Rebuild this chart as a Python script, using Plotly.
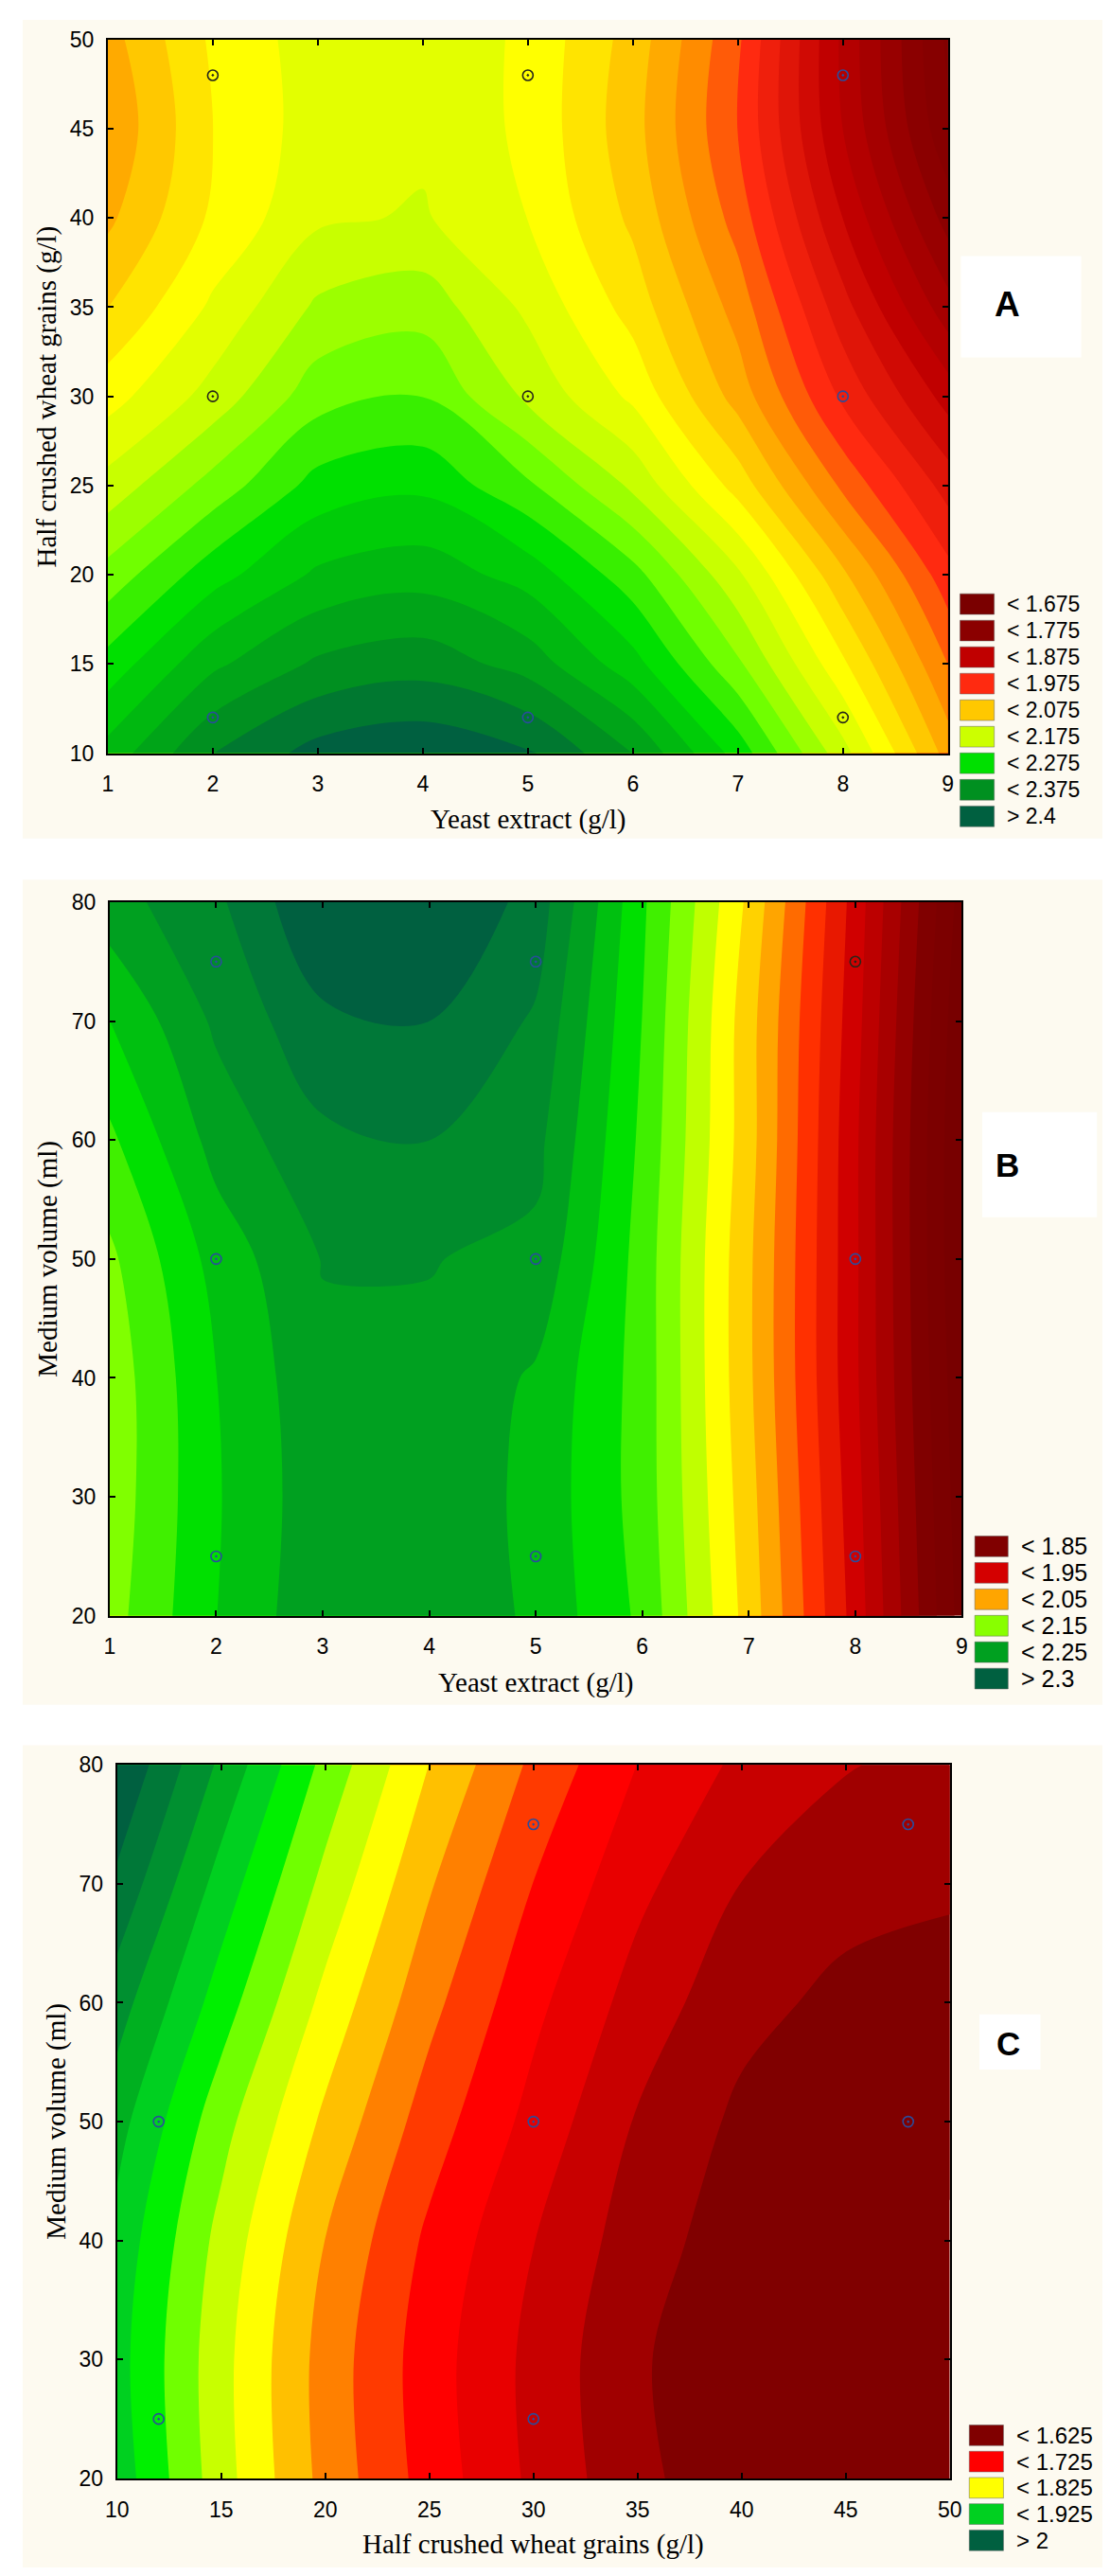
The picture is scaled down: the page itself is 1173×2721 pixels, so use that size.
import numpy as np
import plotly.graph_objects as go

W, H = 1173, 2721

# ---- panel A : yeast extract (x) vs half crushed wheat grains (y)
a_x = [1, 2, 3, 4, 5, 6, 7, 8, 9]
a_y = [10, 15, 20, 25, 30, 35, 40, 45, 50]
a_z = [
    [2.310, 2.375, 2.410, 2.420, 2.405, 2.350, 2.265, 2.160, 2.040],
    [2.260, 2.320, 2.355, 2.365, 2.340, 2.285, 2.205, 2.105, 2.000],
    [2.210, 2.265, 2.305, 2.315, 2.290, 2.235, 2.155, 2.055, 1.960],
    [2.160, 2.210, 2.260, 2.270, 2.230, 2.170, 2.090, 1.995, 1.915],
    [2.115, 2.160, 2.215, 2.225, 2.170, 2.120, 2.040, 1.945, 1.865],
    [2.075, 2.130, 2.180, 2.190, 2.145, 2.090, 2.015, 1.910, 1.810],
    [2.045, 2.105, 2.146, 2.153, 2.125, 2.070, 1.990, 1.875, 1.765],
    [2.030, 2.100, 2.138, 2.145, 2.120, 2.060, 1.975, 1.850, 1.730],
    [2.040, 2.105, 2.138, 2.145, 2.120, 2.065, 1.980, 1.845, 1.720],
]
a_pts_x = [2, 5, 8, 2, 5, 8, 2, 5, 8]
a_pts_y = [48, 48, 48, 30, 30, 30, 12, 12, 12]
a_pts_c = ["k", "k", "b", "k", "k", "b", "b", "b", "k"]
a_leg = ["< 1.675", "< 1.775", "< 1.875", "< 1.975", "< 2.075",
         "< 2.175", "< 2.275", "< 2.375", "> 2.4"]
a_leg_col = ["#7a0000", "#8b0000", "#c00000", "#ff2a10", "#ffc800",
             "#ccff00", "#00e000", "#009020", "#006040"]

# ---- panel B : yeast extract (x) vs medium volume (y)
b_x = [1, 2, 3, 4, 5, 6, 7, 8, 9]
b_y = [20, 30, 40, 50, 60, 70, 80]
b_z = [
    [2.140, 2.200, 2.245, 2.248, 2.220, 2.170, 2.065, 1.940, 1.790],
    [2.135, 2.198, 2.242, 2.245, 2.218, 2.165, 2.060, 1.935, 1.785],
    [2.135, 2.200, 2.245, 2.245, 2.222, 2.165, 2.055, 1.930, 1.780],
    [2.145, 2.210, 2.2515, 2.2515, 2.244, 2.165, 2.055, 1.930, 1.775],
    [2.170, 2.235, 2.270, 2.276, 2.258, 2.170, 2.060, 1.930, 1.775],
    [2.200, 2.255, 2.295, 2.301, 2.272, 2.175, 2.060, 1.935, 1.780],
    [2.240, 2.270, 2.325, 2.330, 2.290, 2.180, 2.070, 1.940, 1.790],
]
b_pts_x = [2, 5, 8, 2, 5, 8, 2, 5, 8]
b_pts_y = [75, 75, 75, 50, 50, 50, 25, 25, 25]
b_pts_c = ["b", "b", "k", "b", "b", "b", "b", "b", "b"]
b_leg = ["< 1.85", "< 1.95", "< 2.05", "< 2.15", "< 2.25", "> 2.3"]
b_leg_col = ["#800000", "#d40000", "#ffa500", "#88ff00", "#00a020", "#006040"]

# ---- panel C : half crushed wheat grains (x) vs medium volume (y)
c_x = [10, 15, 20, 25, 30, 35, 40, 45, 50]
c_y = [20, 30, 40, 50, 60, 70, 80]
c_z = [
    [1.915, 1.836, 1.767, 1.715, 1.670, 1.632, 1.607, 1.597, 1.600],
    [1.910, 1.834, 1.765, 1.712, 1.668, 1.629, 1.604, 1.593, 1.595],
    [1.917, 1.842, 1.775, 1.720, 1.676, 1.637, 1.612, 1.599, 1.598],
    [1.935, 1.860, 1.795, 1.738, 1.692, 1.648, 1.620, 1.606, 1.605],
    [1.962, 1.888, 1.818, 1.758, 1.707, 1.665, 1.633, 1.619, 1.615],
    [1.995, 1.915, 1.843, 1.778, 1.725, 1.682, 1.650, 1.634, 1.629],
    [2.025, 1.945, 1.868, 1.800, 1.745, 1.700, 1.670, 1.652, 1.642],
]
c_pts_x = [30, 48, 12, 30, 48, 12, 30]
c_pts_y = [75, 75, 50, 50, 50, 25, 25]
c_pts_c = ["b", "b", "b", "b", "b", "b", "b"]
c_leg = ["< 1.625", "< 1.725", "< 1.825", "< 1.925", "> 2"]
c_leg_col = ["#800000", "#ff0000", "#ffff00", "#00d020", "#006040"]

# colour ramps (value -> colour) used for the filled bands
a_ramp = [(1.6375, "#6a0000"), (1.6625, "#780000"), (1.7625, "#8b0000"),
          (1.8625, "#c00000"), (1.9625, "#ff2a10"), (2.0125, "#ff8c00"),
          (2.0625, "#ffc800"), (2.1125, "#ffff00"), (2.1625, "#c8ff00"),
          (2.2125, "#70ff00"), (2.2625, "#00e000"), (2.3625, "#009020"),
          (2.4125, "#006040")]
b_ramp = [(1.7875, "#780000"), (1.8375, "#800000"), (1.9375, "#d00000"),
          (1.9875, "#ff3000"), (2.0375, "#ffa500"), (2.0875, "#ffff00"),
          (2.1375, "#80ff00"), (2.1875, "#00e000"), (2.2375, "#00a020"),
          (2.2875, "#007838"), (2.3125, "#006040")]
c_ramp = [(1.5875, "#800000"), (1.6125, "#800000"), (1.6375, "#a00000"),
          (1.6625, "#c80000"), (1.6875, "#e80000"), (1.7125, "#ff0000"),
          (1.7375, "#ff3a00"), (1.7625, "#ff8000"), (1.7875, "#ffc000"),
          (1.8125, "#ffff00"), (1.8375, "#c8ff00"), (1.8625, "#70ff00"),
          (1.8875, "#00f000"), (1.9125, "#00d020"), (1.9375, "#00b020"),
          (1.9625, "#009030"), (1.9875, "#007838"), (2.0125, "#006040")]

MARK = {"k": "#26261a", "b": "#2a4c9c"}
SANS = "Liberation Sans, Arial, sans-serif"
SERIF = "Liberation Serif, Times New Roman, serif"
CREAM = "#fdfaf0"
NUDGE = 0.0004  # keeps contour levels off grid values that sit exactly on a level


def px(x):
    return x / W


def py(y):
    return 1 - y / H


def ramp_scale(ramp, start, end, size):
    v0, v1 = start - size / 2, end + size / 2
    out = [[min(1.0, max(0.0, round((v - v0) / (v1 - v0), 6))), c] for v, c in ramp]
    out[0][0] = 0.0
    out[-1][0] = 1.0
    return out


panels = [
    dict(x=a_x, y=a_y, z=a_z, lv=(1.65, 2.4, 0.025), ramp=a_ramp,
         px_=a_pts_x, py_=a_pts_y, pc=a_pts_c, leg=a_leg, legc=a_leg_col,
         box=(95, 21, 1003, 782), bg=(3, 0, 1170, 873),
         xr=[1, 9], xd=1, yr=[10, 50], yd=5,
         xt="Yeast extract (g/l)", yt="Half crushed wheat grains (g/l)",
         xt_pos=(549, 853), yt_pos=(29, 402),
         lg=dict(x0=1016, x1=1053, top=612, step=28.3, tx=1065, fs=23),
         lab="A", lab_box=(1017, 252, 1147, 360), lab_pos=(1067, 303), lab_fs=37),
    dict(x=b_x, y=b_y, z=b_z, lv=(1.8, 2.3, 0.025), ramp=b_ramp,
         px_=b_pts_x, py_=b_pts_y, pc=b_pts_c, leg=b_leg, legc=b_leg_col,
         box=(97, 941, 1018, 1702), bg=(3, 917, 1170, 1797),
         xr=[1, 9], xd=1, yr=[20, 80], yd=10,
         xt="Yeast extract (g/l)", yt="Medium volume (ml)",
         xt_pos=(557, 1773), yt_pos=(30, 1321),
         lg=dict(x0=1032, x1=1068, top=1617, step=28.2, tx=1080, fs=25),
         lab="B", lab_box=(1040, 1165, 1164, 1277), lab_pos=(1067, 1221), lab_fs=35),
    dict(x=c_x, y=c_y, z=c_z, lv=(1.6, 2.0, 0.025), ramp=c_ramp,
         px_=c_pts_x, py_=c_pts_y, pc=c_pts_c, leg=c_leg, legc=c_leg_col,
         box=(105, 1861, 1005, 2622), bg=(3, 1840, 1170, 2717),
         xr=[10, 50], xd=5, yr=[20, 80], yd=10,
         xt="Half crushed wheat grains (g/l)", yt="Medium volume (ml)",
         xt_pos=(555, 2692), yt_pos=(39, 2241),
         lg=dict(x0=1026, x1=1063, top=2565, step=28.0, tx=1075, fs=24),
         lab="C", lab_box=(1037, 2127, 1103, 2186), lab_pos=(1068, 2158), lab_fs=35),
]

fig = go.Figure()
shapes, annos = [], []
layout = {}

for i, p in enumerate(panels):
    n = "" if i == 0 else str(i + 1)
    xa, ya = "x" + n, "y" + n
    start, end, size = p["lv"]

    fig.add_trace(go.Contour(
        x=p["x"], y=p["y"], z=p["z"], xaxis=xa, yaxis=ya,
        contours=dict(start=start + NUDGE, end=end + NUDGE, size=size,
                      coloring="fill", showlines=False),
        line=dict(width=0, smoothing=1.0),
        colorscale=ramp_scale(p["ramp"], start, end, size),
        showscale=False, hoverinfo="skip"))

    fig.add_trace(go.Scatter(
        x=p["px_"], y=p["py_"], xaxis=xa, yaxis=ya, mode="markers",
        marker=dict(symbol="circle-open-dot", size=11,
                    color=[MARK[c] for c in p["pc"]],
                    line=dict(width=1.6, color=[MARK[c] for c in p["pc"]])),
        showlegend=False, hoverinfo="skip"))

    x0, y0, x1, y1 = p["box"]
    ax_common = dict(showline=True, linecolor="black", linewidth=2, mirror="ticks",
                     ticks="inside", ticklen=6, tickwidth=1.5, tickcolor="black",
                     showgrid=False, zeroline=False,
                     tickfont=dict(family=SANS, size=23, color="black"))
    layout["xaxis" + n] = dict(ax_common, domain=[px(x0), px(x1)], anchor=ya,
                               range=p["xr"], dtick=p["xd"], tick0=p["xr"][0],
                               ticklabelstandoff=11)
    layout["yaxis" + n] = dict(ax_common, domain=[py(y1), py(y0)], anchor=xa,
                               range=p["yr"], dtick=p["yd"], tick0=p["yr"][0],
                               ticklabelstandoff=8)

    bx0, by0, bx1, by1 = p["bg"]
    shapes.append(dict(type="rect", xref="paper", yref="paper", layer="below",
                       x0=px(bx0), x1=px(bx1), y0=py(by1), y1=py(by0),
                       fillcolor=CREAM, line=dict(width=0)))

    lx, ly = p["xt_pos"]
    annos.append(dict(text=p["xt"], x=px(lx), y=py(ly), xref="paper", yref="paper",
                      showarrow=False, xanchor="center", yanchor="middle",
                      font=dict(family=SERIF, size=29, color="black")))
    lx, ly = p["yt_pos"]
    annos.append(dict(text=p["yt"], x=px(lx), y=py(ly), xref="paper", yref="paper",
                      showarrow=False, xanchor="center", yanchor="middle", textangle=-90,
                      font=dict(family=SERIF, size=29, color="black")))

    lg = p["lg"]
    for k, (lab, col) in enumerate(zip(p["leg"], p["legc"])):
        top = lg["top"] + k * lg["step"]
        shapes.append(dict(type="rect", xref="paper", yref="paper",
                           x0=px(lg["x0"]), x1=px(lg["x1"]), y0=py(top + 22), y1=py(top),
                           fillcolor=col, line=dict(width=0.8, color="rgba(90,90,90,0.6)")))
        annos.append(dict(text=lab, x=px(lg["tx"]), y=py(top + 11), xref="paper", yref="paper",
                          showarrow=False, xanchor="left", yanchor="middle",
                          font=dict(family=SANS, size=lg["fs"], color="black")))

    kx0, ky0, kx1, ky1 = p["lab_box"]
    shapes.append(dict(type="rect", xref="paper", yref="paper",
                       x0=px(kx0), x1=px(kx1), y0=py(ky1), y1=py(ky0),
                       fillcolor="white", line=dict(width=0)))
    lx, ly = p["lab_pos"]
    annos.append(dict(text="<b>%s</b>" % p["lab"], x=px(lx), y=py(ly), xref="paper", yref="paper",
                      showarrow=False, xanchor="center", yanchor="middle",
                      font=dict(family=SANS, size=p["lab_fs"], color="black")))

fig.update_layout(
    width=W, height=H, margin=dict(l=0, r=0, t=0, b=0),
    paper_bgcolor="white", plot_bgcolor="rgba(0,0,0,0)",
    showlegend=False, shapes=shapes, annotations=annos, **layout)

fig.write_html("out.html")
